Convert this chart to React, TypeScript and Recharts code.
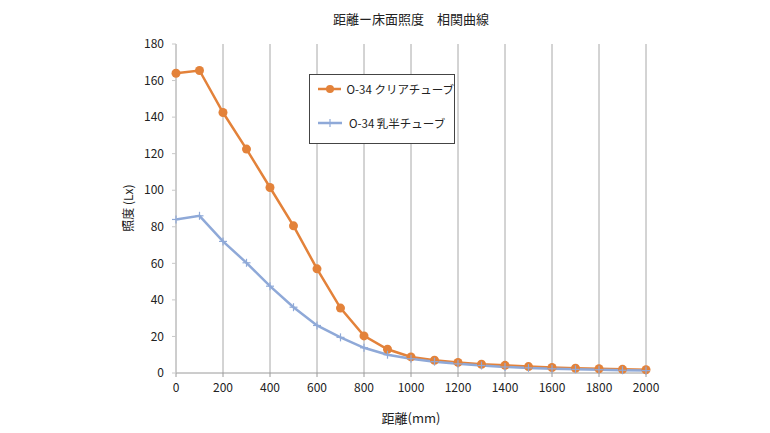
import { CartesianGrid, Label, Legend, Line, LineChart, XAxis, YAxis } from 'recharts'

const distances = [0, 100, 200, 300, 400, 500, 600, 700, 800, 900, 1000, 1100, 1200, 1300, 1400, 1500, 1600, 1700, 1800, 1900, 2000]
const clearTube = [164, 165.5, 142.5, 122.5, 101.5, 80.5, 57, 35.5, 20.3, 13, 8.8, 7, 5.8, 4.8, 4.2, 3.5, 3, 2.6, 2.3, 2, 1.8]
const milkyTube = [84, 86, 72, 60.3, 47.5, 36, 26, 19.5, 13.8, 10, 7.8, 6.2, 5, 4.1, 3.3, 2.8, 2.3, 2, 1.8, 1.5, 1.3]
const xTicks = [0, 200, 400, 600, 800, 1000, 1200, 1400, 1600, 1800, 2000]
const yTicks = [0, 20, 40, 60, 80, 100, 120, 140, 160, 180]

const data = distances.map((d, i) => ({ d, clear: clearTube[i], milky: milkyTube[i] }))

const FONT = '"Noto Sans CJK JP", "Noto Sans", sans-serif'
const ORANGE = '#E3823A'
const BLUE = '#8FA9D8'

const PlusDot = (props: any) => {
  const { cx, cy } = props
  if (cx == null || cy == null) return null
  return (
    <g>
      <line x1={cx - 4} x2={cx + 4} y1={cy} y2={cy} stroke={BLUE} strokeWidth={1.2} />
      <line x1={cx} x2={cx} y1={cy - 4} y2={cy + 4} stroke={BLUE} strokeWidth={1.2} />
    </g>
  )
}

const LegendBox = (props: any) => {
  const items = props.payload || []
  return (
    <div
      style={{
        border: '1px solid #444',
        background: '#fff',
        width: 146,
        height: 70,
        boxSizing: 'border-box',
        padding: '5px 0 0 7px',
        fontFamily: FONT,
        fontSize: 11.5,
        color: '#222',
        whiteSpace: 'nowrap',
      }}
    >
      {items.map((it: any) => (
        <div key={it.value} style={{ display: 'flex', alignItems: 'center', height: 18, marginBottom: 16 }}>
          <svg width={26} height={10} style={{ marginRight: 6 }}>
            <line x1={1} x2={25} y1={5} y2={5} stroke={it.color} strokeWidth={2.5} />
            {it.dataKey === 'clear' ? (
              <circle cx={13} cy={5} r={4} fill={it.color} />
            ) : (
              <line x1={13} x2={13} y1={1} y2={9} stroke={it.color} strokeWidth={1.2} />
            )}
          </svg>
          <span>{it.value}</span>
        </div>
      ))}
    </div>
  )
}

export default function App() {
  return (
    <div style={{ position: 'absolute', left: 0, top: 0, width: 770, height: 433, background: '#fff' }}>
      <div
        style={{
          position: 'absolute',
          top: 9,
          left: 0,
          width: 822,
          textAlign: 'center',
          fontFamily: FONT,
          fontSize: 13,
          color: '#222',
        }}
      >
        距離ー床面照度　相関曲線
      </div>
      <LineChart width={770} height={433} data={data} margin={{ top: 44, right: 124, bottom: 0, left: 0 }}>
        <CartesianGrid horizontal={false} stroke="#a8a8a8" />
        <XAxis
          dataKey="d"
          type="number"
          domain={[0, 2000]}
          ticks={xTicks}
          height={60}
          tickSize={4}
          tickMargin={6}
          stroke="#9a9a9a"
          tick={{ fill: '#222', fontSize: 12, fontFamily: FONT }}
        >
          <Label
            content={() => (
              <text x={411} y={423} textAnchor="middle" fontSize={13} fontFamily={FONT} fill="#222">
                距離(mm)
              </text>
            )}
          />
        </XAxis>
        <YAxis
          type="number"
          domain={[0, 180]}
          ticks={yTicks}
          width={176}
          tickSize={4}
          tickMargin={8}
          stroke="#c8c8c8"
          tick={{ fill: '#222', fontSize: 12, fontFamily: FONT }}
        >
          <Label
            content={() => (
              <text
                x={127}
                y={208}
                transform="rotate(-90 127 208)"
                textAnchor="middle"
                dominantBaseline="central"
                fontSize={12}
                fontFamily={FONT}
                fill="#222"
              >
                照度 (Lx)
              </text>
            )}
          />
        </YAxis>
        <Legend
          layout="vertical"
          align="center"
          verticalAlign="middle"
          content={<LegendBox />}
          wrapperStyle={{ position: 'absolute', left: 309, top: 74, width: 146, height: 70 }}
        />
        <Line
          dataKey="clear"
          name="O-34 クリアチューブ"
          stroke={ORANGE}
          strokeWidth={2.5}
          dot={{ r: 4.5, fill: ORANGE, stroke: ORANGE, strokeWidth: 0 }}
          isAnimationActive={false}
        />
        <Line
          dataKey="milky"
          name="O-34 乳半チューブ"
          stroke={BLUE}
          strokeWidth={2.5}
          dot={<PlusDot />}
          isAnimationActive={false}
        />
      </LineChart>
    </div>
  )
}
